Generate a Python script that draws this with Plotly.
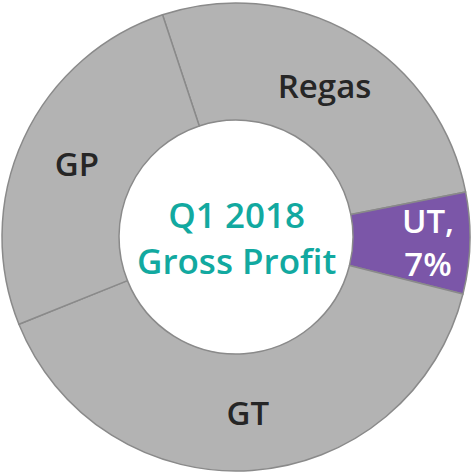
import plotly.graph_objects as go

labels = ["Regas", "UT", "GT", "GP"]
values = [27, 7, 40, 26]
texts = ["Regas", "UT,<br>7%", "GT", "GP"]
colors = ["#b3b3b3", "#7b56a8", "#b3b3b3", "#b3b3b3"]
text_colors = ["#262626", "#ffffff", "#262626", "#262626"]
center_title = "Q1 2018<br>Gross Profit"

fig = go.Figure(go.Pie(
    labels=labels,
    values=values,
    text=texts,
    textinfo="text",
    textposition="inside",
    insidetextorientation="horizontal",
    hole=0.5,
    sort=False,
    direction="clockwise",
    rotation=-18.3,
    marker=dict(colors=colors, line=dict(color="#8a8a8a", width=1.5)),
    textfont=dict(family="Open Sans", size=33, color=text_colors, weight=600),
    showlegend=False,
))

fig.add_annotation(
    x=0.5, y=0.5, xref="paper", yref="paper",
    text=center_title, showarrow=False,
    font=dict(family="Open Sans", size=35, color="#12a9a0", weight=600),
)

fig.update_layout(
    width=472, height=474,
    margin=dict(l=2, r=2, t=2, b=2),
    paper_bgcolor="white",
    plot_bgcolor="white",
    uniformtext=dict(minsize=33, mode="show"),
)

fig.write_html(
    "out.html",
    config={"displayModeBar": False},
    post_script="document.body.style.margin='0';document.body.style.padding='0';",
)
